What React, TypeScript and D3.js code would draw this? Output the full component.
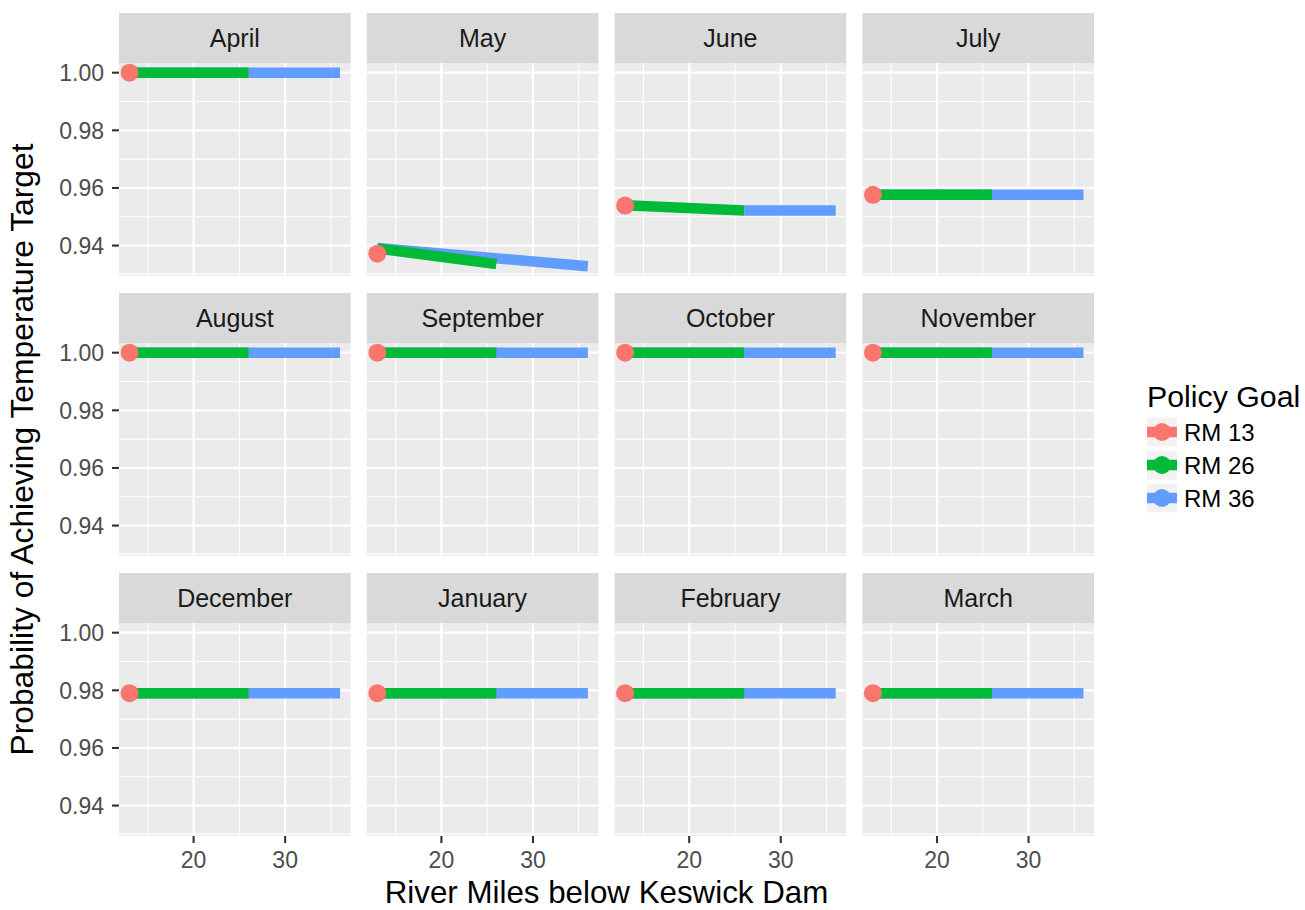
import React from 'react';
import * as d3 from 'd3';

const months = ['April', 'May', 'June', 'July', 'August', 'September', 'October', 'November', 'December', 'January', 'February', 'March'];
const goals = ['RM 13', 'RM 26', 'RM 36'];
const goalColors = ['#F8766D', '#00BA38', '#619CFF'];

// probability at RM 13 (point)
const rm13Values = [1.0, 0.9372, 0.9539, 0.9576, 1.0, 1.0, 1.0, 1.0, 0.979, 0.979, 0.979, 0.979];
// RM 26 line: from RM 13 to RM 26
const rm26Start = [1.0, 0.939, 0.954, 0.9576, 1.0, 1.0, 1.0, 1.0, 0.979, 0.979, 0.979, 0.979];
const rm26End = [1.0, 0.9336, 0.9522, 0.9576, 1.0, 1.0, 1.0, 1.0, 0.979, 0.979, 0.979, 0.979];
// RM 36 line: from start mile to RM 36
const rm36StartMile = [13, 13, 26, 13, 13, 13, 13, 13, 13, 13, 13, 13];
const rm36Start = [1.0, 0.9392, 0.9522, 0.9576, 1.0, 1.0, 1.0, 1.0, 0.979, 0.979, 0.979, 0.979];
const rm36End = [1.0, 0.9328, 0.9522, 0.9576, 1.0, 1.0, 1.0, 1.0, 0.979, 0.979, 0.979, 0.979];

const xTicks = [20, 30];
const xMinor = [15, 25, 35];
const yTicks = [0.94, 0.96, 0.98, 1.0];
const yMinor = [0.93, 0.95, 0.97, 0.99];

const FONT = 'Liberation Sans, Arial, sans-serif';

export default function App() {
  const W = 1305, H = 910;
  const left = 119, right = 1094;
  const colGap = 16.2, rowStep = 280;
  const nCol = 4;
  const pw = (right - left - colGap * (nCol - 1)) / nCol;
  const stripTop0 = 13, stripH = 50, ph = 213;

  const allVals = [...rm13Values, ...rm26Start, ...rm26End, ...rm36Start, ...rm36End];
  const yMin = d3.min(allVals) as number, yMax = d3.max(allVals) as number;
  const yPad = (yMax - yMin) * 0.05;
  const xMin = 13, xMax = 36, xPad = (xMax - xMin) * 0.05;

  const x = d3.scaleLinear().domain([xMin - xPad, xMax + xPad]).range([0, pw]);
  const y = d3.scaleLinear().domain([yMin - yPad, yMax + yPad]).range([ph, 0]);
  const line = d3.line<[number, number]>().x(d => x(d[0])).y(d => y(d[1]));

  const lw = 10.5;
  const pr = 9;

  return (
    <svg width={W} height={H} style={{ position: 'absolute', left: 0, top: 0, background: '#fff' }} fontFamily={FONT}>
      <rect width={W} height={H} fill="#fff" />
      {months.map((m, i) => {
        const c = i % nCol, r = Math.floor(i / nCol);
        const px = left + c * (pw + colGap);
        const sy = stripTop0 + r * rowStep;
        const py = sy + stripH;
        return (
          <g key={m}>
            <rect x={px} y={sy} width={pw} height={stripH} fill="#D9D9D9" />
            <text x={px + pw / 2} y={sy + stripH / 2 + 8.9} textAnchor="middle" fontSize={25} fill="#1A1A1A">{m}</text>
            <g transform={`translate(${px},${py})`}>
              <rect width={pw} height={ph} fill="#EBEBEB" />
              {yMinor.map(v => <line key={'ym' + v} x1={0} x2={pw} y1={y(v)} y2={y(v)} stroke="#fff" strokeWidth={1.1} />)}
              {xMinor.map(v => <line key={'xm' + v} y1={0} y2={ph} x1={x(v)} x2={x(v)} stroke="#fff" strokeWidth={1.1} />)}
              {yTicks.map(v => <line key={'y' + v} x1={0} x2={pw} y1={y(v)} y2={y(v)} stroke="#fff" strokeWidth={2.2} />)}
              {xTicks.map(v => <line key={'x' + v} y1={0} y2={ph} x1={x(v)} x2={x(v)} stroke="#fff" strokeWidth={2.2} />)}
              <path d={line([[rm36StartMile[i], rm36Start[i]], [36, rm36End[i]]]) as string} fill="none" stroke={goalColors[2]} strokeWidth={lw} strokeLinecap="butt" />
              <path d={line([[13, rm26Start[i]], [26, rm26End[i]]]) as string} fill="none" stroke={goalColors[1]} strokeWidth={lw} strokeLinecap="butt" />
              <circle cx={x(13)} cy={y(rm13Values[i])} r={pr} fill={goalColors[0]} />
              {c === 0 && yTicks.map(v => (
                <g key={'yt' + v}>
                  <line x1={-7} x2={0} y1={y(v)} y2={y(v)} stroke="#333" strokeWidth={2.1} />
                  <text x={-15} y={y(v) + 8.3} textAnchor="end" fontSize={23} fill="#4D4D4D">{v.toFixed(2)}</text>
                </g>
              ))}
              {r === 2 && xTicks.map(v => (
                <g key={'xt' + v}>
                  <line x1={x(v)} x2={x(v)} y1={ph} y2={ph + 7} stroke="#333" strokeWidth={2.1} />
                  <text x={x(v)} y={ph + 32} textAnchor="middle" fontSize={23} fill="#4D4D4D">{v}</text>
                </g>
              ))}
            </g>
          </g>
        );
      })}
      <text x={(left + right) / 2} y={902.5} textAnchor="middle" fontSize={31.3} fill="#000">River Miles below Keswick Dam</text>
      <text transform={`translate(33,${(63 + 63 + 2 * rowStep + ph) / 2}) rotate(-90)`} textAnchor="middle" fontSize={31.8} fill="#000">Probability of Achieving Temperature Target</text>
      <g>
        <text x={1147} y={407} fontSize={30.3} fill="#000">Policy Goal</text>
        {goals.map((g, k) => {
          const cy = 432 + k * 33;
          return (
            <g key={g}>
              <rect x={1147} y={cy - 14.5} width={30} height={29} fill="#F2F2F2" />
              <line x1={1147} x2={1177} y1={cy} y2={cy} stroke={goalColors[k]} strokeWidth={lw} />
              <circle cx={1162} cy={cy} r={pr} fill={goalColors[k]} />
              <text x={1184} y={cy + 8.6} fontSize={24} fill="#000">{g}</text>
            </g>
          );
        })}
      </g>
    </svg>
  );
}
